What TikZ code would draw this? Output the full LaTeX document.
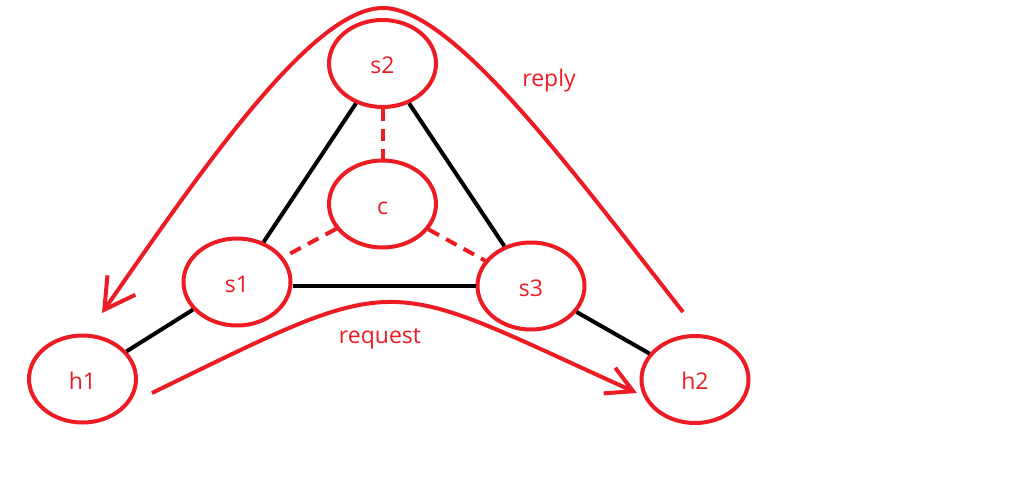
\documentclass[tikz,border=0pt]{standalone}
\usepackage{fontspec}
\setmainfont{Open Sans}
\usetikzlibrary{shapes.geometric,arrows.meta}
\definecolor{pred}{RGB}{237,28,36}
\tikzset{
  host/.style={ellipse,draw=pred,line width=4pt,minimum width=107pt,minimum height=87pt,
    inner sep=0pt,text=pred,font=\fontsize{23pt}{26pt}\selectfont,text height=20pt,text depth=0pt},
  link/.style={draw=black,line width=4pt},
  ctrl/.style={draw=pred,line width=4pt,dash pattern=on 12pt off 8pt},
  flow/.style={draw=pred,line width=4pt},
  lbl/.style={text=pred,font=\fontsize{23pt}{26pt}\selectfont,inner sep=0pt,anchor=base}
}
\begin{document}
\begin{tikzpicture}[x=1pt,y=-1pt]
\useasboundingbox[fill=white] (0,0) rectangle (1028,491);
% nodes
\node[host] (s2) at (382.5,63.5) {s2};
\node[host] (c)  at (382.5,204) {c};
\node[host] (s1) at (237,282) {s1};
\node[host] (s3) at (531,286) {s3};
\node[host] (h1) at (82.5,379) {h1};
\node[host] (h2) at (695,379.5) {h2};
% black links
\draw[link] (s2) -- (s1);
\draw[link] (s2) -- (s3);
\draw[link] (s1.east |- s3.center) -- (s3.west);
\draw[link] (s1) -- (h1);
\draw[link] (s3) -- (h2);
% dashed control links
\draw[ctrl] (s2) -- (c);
\draw[ctrl] (c) -- (s1);
\draw[ctrl] (c) -- (s3);
% reply curve
\coordinate (rpS) at (683,312);
\coordinate (rpT) at (383,8);
\coordinate (rpE) at (102,313);
\draw[flow,-{Straight Barb[length=30pt,width=34pt]}] (rpS) .. controls (571.4,169.8) and (453,8) .. (rpT)
  .. controls (313,8) and (204.6,165.4) .. (rpE);
% request curve
\coordinate (rqS) at (152,393);
\coordinate (rqE) at (637,393);
\draw[flow,-{Straight Barb[length=26pt,width=28pt]}] (rqS) .. controls (408,268) and (378,276) .. (rqE);
% labels
\node[lbl] (reply) at (549,86) {reply};
\node[lbl] (request) at (380,343) {request};
\end{tikzpicture}
\end{document}
